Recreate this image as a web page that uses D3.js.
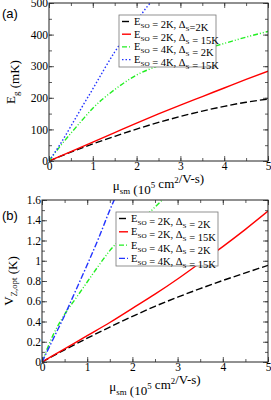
<!DOCTYPE html>
<html>
<head>
<meta charset="utf-8">
<script src="https://cdn.jsdelivr.net/npm/d3@7"></script>
<style>
body{margin:0;background:#fff}
svg{display:block}
</style>
</head>
<body>
<script>
// data
var xTicks=[0,1,2,3,4,5]
var aTicks=[0,100,200,300,400,500]
var bTicks=[0,0.2,0.4,0.6,0.8,1,1.2,1.4,1.6]

var aBlackX=[0,0.5,1,1.5,2,2.5,3,3.5,4,4.5,5]
var aBlackY=[0,28,54,78,101,122,141,158,173,186,196]
var aRedX=[0,0.5,1,1.5,2,2.5,3,3.5,4,4.5,5]
var aRedY=[0,30,60,90,120,149,177,204,231,258,284]
var aGreenX=[0,0.25,0.5,0.75,1,1.5,2,2.5,3,3.5,4,4.5,5]
var aGreenY=[0,46,88,128,167,226,272,302,330,352,372,392,410]
var aBlueX=[0,0.25,0.5,0.75,1,1.25,1.5,1.75,2,2.25,2.5]
var aBlueY=[0,52,110,170,228,288,345,395,443,490,530]

var bBlackX=[0,0.5,1,1.5,2,2.5,3,3.5,4,4.5,5]
var bBlackY=[0,0.12,0.235,0.345,0.45,0.55,0.64,0.725,0.805,0.88,0.955]
var bRedX=[0,0.5,1,1.5,2,2.5,3,3.5,4,4.5,5]
var bRedY=[0,0.13,0.26,0.39,0.53,0.67,0.82,0.98,1.14,1.31,1.49]
var bGreenX=[0,0.25,0.5,0.75,1,1.25,1.5,2,2.5,2.75]
var bGreenY=[0,0.27,0.47,0.63,0.79,0.95,1.1,1.32,1.53,1.64]
var bBlueX=[0,0.25,0.5,0.75,1,1.25,1.5,1.75]
var bBlueY=[0,0.23,0.46,0.71,0.96,1.22,1.5,1.75]

var aLegend=[
	[["E",0],["SO",1],[" = 2K,  Δ",0],["S",1],["=2K",0]],
	[["E",0],["SO",1],[" = 2K,  Δ",0],["S",1],[" = 15K",0]],
	[["E",0],["SO",1],[" = 4K, Δ",0],["S",1],[" = 2K",0]],
	[["E",0],["SO",1],[" = 4K, Δ",0],["S",1],[" = 15K",0]]
]
var bLegend=[
	[["E",0],["SO",1],[" = 2K,  Δ",0],["S",1],[" = 2K",0]],
	[["E",0],["SO",1],[" = 2K,  Δ",0],["S",1],[" = 15K",0]],
	[["E",0],["SO",1],[" = 4K, Δ",0],["S",1],[" = 2K",0]],
	[["E",0],["SO",1],[" = 4K, Δ",0],["S",1],[" = 15K",0]]
]

var serif="'Liberation Serif','Times New Roman',serif"
const svg=d3.select("body").append("svg").attr("width",271).attr("height",400)

// writes text made of pieces, 1=subscript, 2=superscript
function rich(g,parts,size){
	var t=g.append("text").attr("font-family",serif).attr("font-size",size).attr("fill","#000")
	parts.forEach(p=>{
		var s=t.append("tspan").text(p[0])
		if(p[1]==1){s.attr("font-size",size*0.68).attr("dy",size*0.28)}
		else if(p[1]==2){s.attr("font-size",size*0.68).attr("dy",-size*0.42)}
		else {s.attr("dy",0)}
		// reset baseline for next piece
		if(p[1]==1){t.append("tspan").attr("dy",-size*0.28).text("")}
		if(p[1]==2){t.append("tspan").attr("dy",size*0.42).text("")}
	})
	return t
}

function panel(o){
	var g=svg.append("g")
	var x=d3.scaleLinear().domain([0,5]).range([o.left,o.right])
	var y=d3.scaleLinear().domain([0,o.ymax]).range([o.bottom,o.top])
	var id="clip"+o.name
	g.append("clipPath").attr("id",id).append("rect")
		.attr("x",o.left).attr("y",o.top).attr("width",o.right-o.left).attr("height",o.bottom-o.top)

	// curves
	var line=d3.line().x(d=>x(d[0])).y(d=>y(d[1])).curve(d3.curveMonotoneX)
	var cg=g.append("g").attr("clip-path","url(#"+id+")")
	o.series.forEach(s=>{
		cg.append("path").datum(d3.zip(s.x,s.y)).attr("d",line)
			.attr("fill","none").attr("stroke",s.color).attr("stroke-width",1.4)
			.attr("stroke-dasharray",s.dash)
	})

	// axes with inward ticks on all four sides
	var minorX=d3.range(0,5.01,0.5)
	var minorY=d3.range(0,o.ymax+o.ystep/4,o.ystep/2)
	function ax(axis,tr,ticks,len){
		var a=g.append("g").attr("transform",tr)
			.call(axis.tickValues(ticks).tickSize(len).tickFormat(""))
		a.select(".domain").remove()
		a.selectAll("line").attr("stroke","#333").attr("stroke-width",0.8)
		return a
	}
	ax(d3.axisBottom(x),"translate(0,"+o.bottom+")",minorX,-3)
	ax(d3.axisTop(x),"translate(0,"+o.top+")",minorX,-3)
	ax(d3.axisLeft(y),"translate("+o.left+",0)",minorY,-3)
	ax(d3.axisRight(y),"translate("+o.right+",0)",minorY,-3)
	ax(d3.axisTop(x),"translate(0,"+o.top+")",xTicks,-5)
	ax(d3.axisRight(y),"translate("+o.right+",0)",o.yTicks,-5)

	var bx=g.append("g").attr("transform","translate(0,"+o.bottom+")")
		.call(d3.axisBottom(x).tickValues(xTicks).tickSize(-5).tickPadding(2).tickFormat(d=>String(d)))
	bx.select(".domain").remove()
	bx.selectAll("line").attr("stroke","#333").attr("stroke-width",0.8)
	bx.selectAll("text").attr("font-family",serif).attr("font-size",11.5).attr("fill","#000").attr("dy","0.6em")
	var ly=g.append("g").attr("transform","translate("+o.left+",0)")
		.call(d3.axisLeft(y).tickValues(o.yTicks).tickSize(-5).tickPadding(1).tickFormat(o.fmt))
	ly.select(".domain").remove()
	ly.selectAll("line").attr("stroke","#333").attr("stroke-width",0.8)
	ly.selectAll("text").attr("font-family",serif).attr("font-size",11.5).attr("fill","#000")

	g.append("rect").attr("x",o.left).attr("y",o.top).attr("width",o.right-o.left).attr("height",o.bottom-o.top)
		.attr("fill","none").attr("stroke","#222").attr("stroke-width",1)

	// axis titles
	rich(g,[["μ",0],["sm",1],[" (10",0],["5",2],[" cm",0],["2",2],["/V-s)",0]],13)
		.attr("x",(o.left+o.right)/2).attr("y",o.xlabelY).attr("text-anchor","middle")
	rich(g,o.ylabel,13).attr("text-anchor","middle")
		.attr("transform","translate("+o.ylabelX+","+(o.top+o.bottom)/2+") rotate(-90)")

	g.append("text").attr("x",2).attr("y",o.tagY).text(o.tag)
		.attr("font-family","'Liberation Sans',Arial,sans-serif").attr("font-size",13)

	// legend
	var lg=g.append("g")
	lg.append("rect").attr("x",o.lx).attr("y",o.ly).attr("width",o.lw).attr("height",o.lh)
		.attr("fill","#fff").attr("stroke","#777").attr("stroke-width",0.8)
	o.series.forEach((s,i)=>{
		var yy=o.ly+o.lrow0+i*o.lstep
		lg.append("line").attr("x1",o.lx+3).attr("x2",o.lx+12).attr("y1",yy).attr("y2",yy)
			.attr("stroke",s.color).attr("stroke-width",1.4).attr("stroke-dasharray",s.dash)
		rich(lg,o.legend[i],10.5).attr("x",o.lx+15).attr("y",yy+3.5)
	})
}

panel({name:"a",tag:"(a)",tagY:18,left:49,right:268,top:3,bottom:161,ymax:500,ystep:100,yTicks:aTicks,
	fmt:d=>String(d),xlabelY:190,ylabelX:15,ylabel:[["E",0],["g",1],[" (mK)",0]],
	lx:119,ly:15,lw:97,lh:52,lrow0:6.5,lstep:12.7,legend:aLegend,
	series:[
		{x:aBlackX,y:aBlackY,color:"#000",dash:"7,3"},
		{x:aRedX,y:aRedY,color:"#ff0000",dash:null},
		{x:aGreenX,y:aGreenY,color:"#22ee22",dash:"5,2,1,2,1,2"},
		{x:aBlueX,y:aBlueY,color:"#2233ff",dash:"1.5,2"}
	]})

panel({name:"b",tag:"(b)",tagY:220,left:42,right:268,top:200,bottom:362,ymax:1.6,ystep:0.2,yTicks:bTicks,
	fmt:d=>String(+d.toFixed(1)),xlabelY:391,ylabelX:13,ylabel:[["V",0],["Z,opt",1],[" (K)",0]],
	lx:116,ly:212,lw:102,lh:54,lrow0:6.5,lstep:13.3,legend:bLegend,
	series:[
		{x:bBlackX,y:bBlackY,color:"#000",dash:"7,3"},
		{x:bRedX,y:bRedY,color:"#ff0000",dash:null},
		{x:bGreenX,y:bGreenY,color:"#22ee22",dash:"5,2,1,2,1,2"},
		{x:bBlueX,y:bBlueY,color:"#2233ff",dash:"6,2,1.5,2"}
	]})
</script>
</body>
</html>
